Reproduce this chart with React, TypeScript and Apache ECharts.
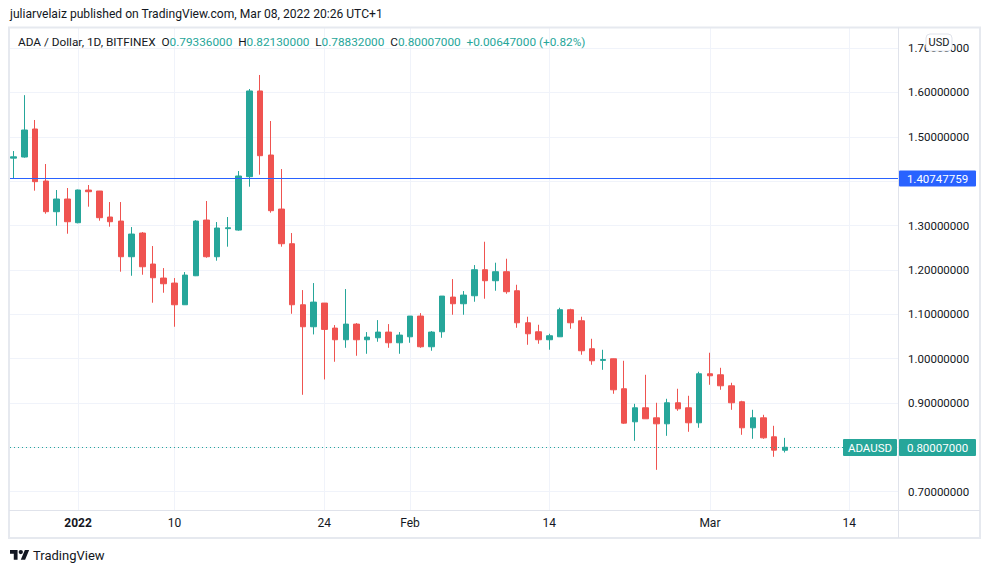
import React, { useEffect, useRef } from "react";
import * as echarts from "echarts";

// ---- data ----
const dates = [
  "2021-12-26", "2021-12-27", "2021-12-28", "2021-12-29", "2021-12-30", "2021-12-31",
  "2022-01-01", "2022-01-02", "2022-01-03", "2022-01-04", "2022-01-05", "2022-01-06", "2022-01-07",
  "2022-01-08", "2022-01-09", "2022-01-10", "2022-01-11", "2022-01-12", "2022-01-13", "2022-01-14",
  "2022-01-15", "2022-01-16", "2022-01-17", "2022-01-18", "2022-01-19", "2022-01-20", "2022-01-21",
  "2022-01-22", "2022-01-23", "2022-01-24", "2022-01-25", "2022-01-26", "2022-01-27", "2022-01-28",
  "2022-01-29", "2022-01-30", "2022-01-31", "2022-02-01", "2022-02-02", "2022-02-03", "2022-02-04",
  "2022-02-05", "2022-02-06", "2022-02-07", "2022-02-08", "2022-02-09", "2022-02-10", "2022-02-11",
  "2022-02-12", "2022-02-13", "2022-02-14", "2022-02-15", "2022-02-16", "2022-02-17", "2022-02-18",
  "2022-02-19", "2022-02-20", "2022-02-21", "2022-02-22", "2022-02-23", "2022-02-24", "2022-02-25",
  "2022-02-26", "2022-02-27", "2022-02-28", "2022-03-01", "2022-03-02", "2022-03-03", "2022-03-04",
  "2022-03-05", "2022-03-06", "2022-03-07", "2022-03-08",
];

const opens = [
  1.452, 1.4545, 1.5177, 1.4004, 1.3312, 1.3598,
  1.3064, 1.38, 1.3778, 1.3192, 1.3101, 1.2297, 1.2831,
  1.2132, 1.1816, 1.1703, 1.1214, 1.1868, 1.3124, 1.2297,
  1.293, 1.2898, 1.4102, 1.6034, 1.459, 1.3372, 1.259,
  1.1214, 1.0718, 1.1252, 1.0688, 1.0425, 1.0778, 1.0425,
  1.047, 1.0598, 1.0357, 1.0492, 1.0959, 1.0267, 1.0605,
  1.1387, 1.1237, 1.1417, 1.2004, 1.1756, 1.1959, 1.153,
  1.0808, 1.0605, 1.0425, 1.0492, 1.1102, 1.0853, 1.0222,
  0.996, 0.9996, 0.932, 0.8575, 0.8891, 0.8665, 0.853,
  0.9004, 0.8891, 0.8553, 0.9658, 0.9635, 0.9387, 0.9027,
  0.844, 0.8665, 0.8237, 0.79336,
];

const highs = [
  1.468, 1.594, 1.538, 1.4387, 1.3801, 1.3846,
  1.381, 1.3914, 1.378, 1.353, 1.353, 1.2966, 1.2853,
  1.2538, 1.2041, 1.1816, 1.1951, 1.312, 1.3553, 1.3079,
  1.3192, 1.4229, 1.6079, 1.6395, 1.5357, 1.4274, 1.2831,
  1.1545, 1.1703, 1.1252, 1.0756, 1.1568, 1.0801, 1.0598,
  1.0868, 1.0778, 1.0598, 1.096, 1.1026, 1.062, 1.141,
  1.1793, 1.1523, 1.2109, 1.2635, 1.2162, 1.2252, 1.1665,
  1.0944, 1.0763, 1.056, 1.1147, 1.1124, 1.0944, 1.0447,
  1.0199, 1.0, 0.9951, 0.8981, 0.9635, 0.9004, 0.9094,
  0.932, 0.9162, 0.9703, 1.0132, 0.9793, 0.9455, 0.9049,
  0.8846, 0.8733, 0.8485, 0.8213,
];

const lows = [
  1.406, 1.453, 1.3786, 1.3267, 1.2996, 1.2816,
  1.305, 1.3425, 1.3109, 1.2974, 1.1959, 1.1868, 1.1891,
  1.126, 1.1485, 1.0718, 1.121, 1.186, 1.2274, 1.2207,
  1.2523, 1.2883, 1.3876, 1.4147, 1.329, 1.2523, 1.1011,
  0.9184, 1.0545, 0.953, 0.9929, 1.0244, 1.0064, 1.0109,
  1.038, 1.0244, 1.0109, 1.0357, 1.0244, 1.0177, 1.047,
  1.0989, 1.0989, 1.1282, 1.135, 1.153, 1.1462, 1.0695,
  1.0312, 1.0335, 1.02, 1.049, 1.0673, 1.0087, 0.9861,
  0.9748, 0.9207, 0.853, 0.8147, 0.8643, 0.7492, 0.8259,
  0.8823, 0.835, 0.844, 0.941, 0.9297, 0.8846, 0.8282,
  0.8192, 0.8192, 0.7786, 0.78832,
];

const closes = [
  1.455, 1.5154, 1.3989, 1.3312, 1.3598, 1.3086,
  1.3801, 1.3763, 1.3177, 1.3086, 1.2297, 1.2808, 1.2071,
  1.1823, 1.1688, 1.1214, 1.1883, 1.3101, 1.2297, 1.2944,
  1.295, 1.4117, 1.6034, 1.4575, 1.3335, 1.259, 1.1214,
  1.0718, 1.1274, 1.0658, 1.0425, 1.0778, 1.0425, 1.0485,
  1.0598, 1.0357, 1.053, 1.0959, 1.0267, 1.0598, 1.141,
  1.1237, 1.1432, 1.2004, 1.1756, 1.1959, 1.1508, 1.0808,
  1.056, 1.0425, 1.0515, 1.1102, 1.0808, 1.0177, 0.9951,
  0.998, 0.9297, 0.8545, 0.8891, 0.8643, 0.853, 0.9004,
  0.8868, 0.8553, 0.9658, 0.9613, 0.9387, 0.9004, 0.844,
  0.8665, 0.8214, 0.7936, 0.80007,
];

const tickDates = ["2022-01-01", "2022-01-10", "2022-01-24", "2022-02-01", "2022-02-14", "2022-03-01", "2022-03-14"];
const tickLabels = ["2022", "10", "24", "Feb", "14", "Mar", "14"];
// grid lines at every 0.1; the 0.8 and 1.4 labels are hidden under the price badges
const priceGrid = [0.7, 0.8, 0.9, 1.0, 1.1, 1.2, 1.3, 1.4, 1.5, 1.6, 1.7];
const priceLabels = [0.7, 0.9, 1.0, 1.1, 1.2, 1.3, 1.5, 1.6, 1.7];
const horizontalLine = 1.40747759;
const symbolName = "ADAUSD";
const titleText = "ADA / Dollar, 1D, BITFINEX";
const publishText = "juliarvelaiz published on TradingView.com, Mar 08, 2022 20:26 UTC+1";

// ---- styles ----
const TEAL = "#26a69a";
const RED = "#ef5350";
const BLUE = "#2962ff";
const TEXT = "#131722";
const GRID = "#f0f3fa";
const BORDER = "#e0e3eb";
const FONT = "Roboto, 'Open Sans', sans-serif";

const DAY = 86400000;
const t0 = Date.parse(dates[0] + "T00:00:00Z");
const dayIndex = (d: string) => Math.round((Date.parse(d + "T00:00:00Z") - t0) / DAY);

const tickIdx = tickDates.map(dayIndex);
const labelByIdx: Record<number, string> = {};
tickIdx.forEach((v, i) => (labelByIdx[v] = tickLabels[i]));

const candleData = dates.map((d, i) => [dayIndex(d), opens[i], closes[i], lows[i], highs[i]]);

const GRID_LEFT = 10;
const GRID_RIGHT_X = 898;
const GRID_TOP = 28;
const GRID_BOTTOM_Y = 511;

export default function App() {
  const ref = useRef<HTMLDivElement>(null);

  useEffect(() => {
    document.body.style.margin = "0";
    if (!ref.current) return;
    const chart = echarts.init(ref.current, null, { renderer: "svg" });

    const last = dates.length - 1;
    const lastClose = closes[last];
    const prevClose = closes[last - 1];
    const change = lastClose - prevClose;
    const changePct = (change / prevClose) * 100;

    const option: any = {
      animation: false,
      backgroundColor: "#ffffff",
      textStyle: { fontFamily: FONT },
      grid: {
        left: GRID_LEFT,
        right: 990 - GRID_RIGHT_X,
        top: GRID_TOP,
        bottom: 573 - GRID_BOTTOM_Y,
        show: false,
      },
      xAxis: {
        type: "value",
        min: -0.35,
        max: 82.56,
        axisLine: { show: false },
        axisTick: { show: false, customValues: tickIdx },
        axisLabel: {
          customValues: tickIdx,
          margin: 6,
          fontSize: 12,
          color: TEXT,
          fontFamily: FONT,
          formatter: (v: number) => {
            const s = labelByIdx[Math.round(v)] ?? "";
            return s === "2022" ? "{b|" + s + "}" : s;
          },
          rich: { b: { fontWeight: "bold", fontSize: 12, color: TEXT, fontFamily: FONT } },
        },
        splitLine: { show: true, lineStyle: { color: GRID, width: 1 } },
      },
      yAxis: {
        type: "value",
        position: "right",
        min: 0.6564,
        max: 1.7454,
        axisLine: { show: false },
        axisTick: { show: false, customValues: priceGrid },
        axisLabel: {
          customValues: priceLabels,
          margin: 10,
          fontSize: 11.5,
          color: TEXT,
          fontFamily: FONT,
          formatter: (v: number) => v.toFixed(8),
        },
        splitLine: { show: true, lineStyle: { color: GRID, width: 1 } },
      },
      series: [
        {
          type: "candlestick",
          z: 2,
          dimensions: ["date", "open", "close", "lowest", "highest"],
          encode: { x: "date", y: ["open", "close", "lowest", "highest"] },
          data: candleData,
          barWidth: 6,
          itemStyle: {
            color: TEAL,
            color0: RED,
            borderColor: TEAL,
            borderColor0: RED,
            borderWidth: 1,
          },
        },
      ],
    };
    chart.setOption(option);

    // pixel positions from the chart's own price scale
    const yBlue = Math.round(chart.convertToPixel({ yAxisIndex: 0 }, horizontalLine) as number) + 0.5;
    const yLast = Math.round(chart.convertToPixel({ yAxisIndex: 0 }, lastClose) as number) + 0.5;

    const fmt = (v: number) => v.toFixed(8);
    const sign = change >= 0 ? "+" : "-";
    const legendText =
      `{l|${titleText}}  {l|O}{v|${fmt(opens[last])}}  {l|H}{v|${fmt(highs[last])}}  ` +
      `{l|L}{v|${fmt(lows[last])}}  {l|C}{v|${fmt(lastClose)}}  ` +
      `{v|${sign}${fmt(Math.abs(change))} (${sign}${Math.abs(changePct).toFixed(2)}%)}`;

    echarts.graphic.registerShape(
      "tvlogo",
      echarts.graphic.extendPath(
        "M14 22H7V11H0V4h14v18zM28 22h-8l7.5-18h8L28 22zM24 8a4 4 0 1 1-8 0a4 4 0 1 1 8 0z",
        {}
      ) as any
    );

    const LF = 11.8;
    const graphics: any[] = [
      // horizontal drawing line and last price line
      {
        type: "line",
        z: 50,
        silent: true,
        shape: { x1: GRID_LEFT, y1: yBlue, x2: GRID_RIGHT_X, y2: yBlue },
        style: { stroke: BLUE, lineWidth: 1 },
      },
      {
        type: "line",
        z: 50,
        silent: true,
        shape: { x1: GRID_LEFT, y1: yLast, x2: GRID_RIGHT_X, y2: yLast },
        style: { stroke: TEAL, lineWidth: 1, lineDash: [1, 3] },
      },
      // frame
      {
        type: "rect",
        z: 90,
        silent: true,
        shape: { x: 9, y: 27.5, width: 971, height: 510.5 },
        style: { fill: "none", stroke: "#e6e9ef", lineWidth: 2 },
      },
      {
        type: "line",
        z: 90,
        silent: true,
        shape: { x1: 9, y1: GRID_BOTTOM_Y - 0.5, x2: 980, y2: GRID_BOTTOM_Y - 0.5 },
        style: { stroke: BORDER, lineWidth: 1 },
      },
      {
        type: "line",
        z: 90,
        silent: true,
        shape: { x1: GRID_RIGHT_X + 0.5, y1: 27.5, x2: GRID_RIGHT_X + 0.5, y2: 538 },
        style: { stroke: BORDER, lineWidth: 1 },
      },
      // publish text
      {
        type: "text",
        z: 100,
        x: 10,
        y: 14,
        style: {
          text: publishText,
          fill: TEXT,
          font: `12.1px ${FONT}`,
          textVerticalAlign: "middle",
        },
      },
      // legend
      {
        type: "text",
        z: 100,
        x: 18,
        y: 42,
        style: {
          text: legendText,
          fill: TEXT,
          fontFamily: FONT,
          fontSize: LF,
          textVerticalAlign: "middle",
          rich: {
            l: { fill: TEXT, fontSize: LF, fontFamily: FONT },
            v: { fill: TEAL, fontSize: LF, fontFamily: FONT },
          },
        },
      },
      // USD badge
      {
        type: "rect",
        z: 100,
        shape: { x: 926, y: 34, width: 26, height: 17, r: 4 },
        style: { fill: "#ffffff", stroke: BORDER, lineWidth: 1 },
      },
      {
        type: "text",
        z: 101,
        x: 939,
        y: 42.5,
        style: { text: "USD", fill: TEXT, font: `11px ${FONT}`, align: "center", verticalAlign: "middle" },
      },
      // blue line label
      {
        type: "rect",
        z: 100,
        shape: { x: GRID_RIGHT_X + 1, y: yBlue - 8, width: 77, height: 16, r: 1 },
        style: { fill: BLUE },
      },
      {
        type: "text",
        z: 101,
        x: GRID_RIGHT_X + 39.5,
        y: yBlue,
        style: {
          text: fmt(horizontalLine),
          fill: "#ffffff",
          font: `11.5px ${FONT}`,
          align: "center",
          verticalAlign: "middle",
        },
      },
      // last price labels
      {
        type: "rect",
        z: 100,
        shape: { x: 843, y: yLast - 8.5, width: 54, height: 17, r: 1 },
        style: { fill: TEAL },
      },
      {
        type: "text",
        z: 101,
        x: 870,
        y: yLast,
        style: {
          text: symbolName,
          fill: "#ffffff",
          font: `11.5px ${FONT}`,
          align: "center",
          verticalAlign: "middle",
        },
      },
      {
        type: "rect",
        z: 100,
        shape: { x: GRID_RIGHT_X + 1, y: yLast - 8.5, width: 77, height: 17, r: 1 },
        style: { fill: TEAL },
      },
      {
        type: "text",
        z: 101,
        x: GRID_RIGHT_X + 39.5,
        y: yLast,
        style: {
          text: fmt(lastClose),
          fill: "#ffffff",
          font: `11.5px ${FONT}`,
          align: "center",
          verticalAlign: "middle",
        },
      },
      // TradingView logo
      {
        type: "tvlogo",
        z: 100,
        x: 10,
        y: 547.8,
        scaleX: 0.54,
        scaleY: 0.54,
        style: { fill: TEXT },
      },
      {
        type: "text",
        z: 100,
        x: 33,
        y: 555,
        style: { text: "TradingView", fill: TEXT, font: `13px ${FONT}`, verticalAlign: "middle" },
      },
    ];

    chart.setOption({ graphic: graphics });

    return () => chart.dispose();
  }, []);

  return <div ref={ref} style={{ width: 990, height: 573 }} />;
}
